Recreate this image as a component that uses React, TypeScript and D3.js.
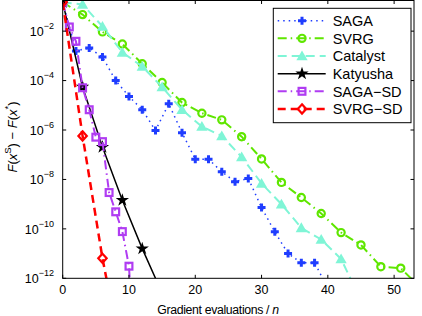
import React from 'react';
import * as d3 from 'd3';

document.body.style.margin = '0';

// values are log10 of F(x^s) - F(x^*)
const sagaX = [0, 2, 4, 6, 8, 10, 12, 14, 16, 18, 20, 22, 24, 26, 28, 30, 32, 34, 36, 38, 40];
const sagaY = [-0.83, -2.8, -2.68, -3.05, -4.0, -4.64, -5.18, -6.02, -4.94, -6.11, -7.18, -7.18, -7.69, -8.09, -7.96, -9.14, -10.12, -11.0, -11.37, -11.37, -12.4];

const svrgX = [0, 3, 6, 9, 12, 15, 18, 21, 24, 27, 30, 33, 36, 39, 42, 45, 48, 51, 54];
const svrgY = [-0.83, -1.33, -2.03, -2.52, -3.32, -4.08, -4.89, -5.32, -5.59, -6.27, -7.17, -8.12, -8.73, -9.38, -10.15, -10.65, -11.53, -11.59, -12.4];

const catalystX = [0, 3, 6, 9, 12, 15, 18, 21, 24, 27, 30, 33, 36, 39, 42, 45];
const catalystY = [-0.83, -0.92, -1.81, -2.86, -3.43, -4.26, -5.18, -5.86, -6.24, -7.09, -8.16, -9.0, -9.96, -10.43, -11.22, -12.9];

const katyushaX = [0, 3, 6, 9, 12, 15];
const katyushaY = [-0.83, -4.26, -6.69, -8.84, -10.8, -12.6];

const sagaSdX = [0, 1, 2, 3, 4, 5, 6, 7, 8, 9, 10, 11];
const sagaSdY = [-0.83, -1.83, -2.41, -4.29, -5.18, -6.29, -6.47, -8.53, -9.31, -10.11, -11.51, -16.5];

const svrgSdX = [0, 3, 6, 9];
const svrgSdY = [-0.83, -6.24, -11.19, -15.3];

const xTicks = [0, 10, 20, 30, 40, 50];
const yTickExp = [-12, -10, -8, -6, -4, -2];

type Marker = 'plus' | 'circle' | 'triangle' | 'star' | 'square' | 'diamond';

const series: { name: string; xs: number[]; ys: number[]; color: string; dash: string; width: number; marker: Marker }[] = [
  { name: 'SAGA', xs: sagaX, ys: sagaY, color: '#1f3dff', dash: '1.5 4', width: 1.5, marker: 'plus' },
  { name: 'SVRG', xs: svrgX, ys: svrgY, color: '#5fe600', dash: '9 4 1.5 4', width: 2, marker: 'circle' },
  { name: 'Catalyst', xs: catalystX, ys: catalystY, color: '#7ff5d6', dash: '9 5', width: 2, marker: 'triangle' },
  { name: 'Katyusha', xs: katyushaX, ys: katyushaY, color: '#000000', dash: '', width: 1.5, marker: 'star' },
  { name: 'SAGA\u2212SD', xs: sagaSdX, ys: sagaSdY, color: '#b03cf2', dash: '9 4 1.5 4', width: 2, marker: 'square' },
  { name: 'SVRG\u2212SD', xs: svrgSdX, ys: svrgSdY, color: '#ff0000', dash: '8 5', width: 2.5, marker: 'diamond' },
];

const W = 422;
const H = 316;
const left = 62.7;
const right = 414;
const top = 0.5;
const bottom = 278.3;
const font = "'Liberation Sans', Arial, sans-serif";

function MarkerShape({ type, x, y, color }: { type: Marker; x: number; y: number; color: string }) {
  const t = `translate(${x},${y})`;
  switch (type) {
    case 'plus':
      return <path transform={t} d="M-4,0H4M0,-4V4" stroke={color} strokeWidth={3} fill="none" />;
    case 'circle':
      return <circle cx={x} cy={y} r={3.6} stroke={color} strokeWidth={2.2} fill="none" />;
    case 'triangle':
      return <path transform={`translate(${x},${y + 1})`} d={d3.symbol(d3.symbolTriangle, 55)()!} fill={color} />;
    case 'star':
      return <path transform={t} d={d3.symbol(d3.symbolStar, 55)()!} fill={color} />;
    case 'square':
      return <rect x={x - 3.4} y={y - 3.4} width={6.8} height={6.8} stroke={color} strokeWidth={2.2} fill="none" />;
    case 'diamond':
      return <path transform={t} d="M0,-4.6L4.2,0L0,4.6L-4.2,0Z" stroke={color} strokeWidth={2.2} fill="none" />;
  }
}

export default function App() {
  const x = d3.scaleLinear().domain([0, 53]).range([left, right]);
  const y = d3.scaleLog().domain([1e-12, Math.pow(10, -0.76)]).range([bottom, top]);

  const line = d3
    .line<[number, number]>()
    .x((d) => x(d[0]))
    .y((d) => y(Math.pow(10, d[1])));

  const legendX = 273.3;
  const legendY = 8.3;
  const rowH = 17.65;

  return (
    <svg width={W} height={H} style={{ display: 'block', fontFamily: font }}>
      <defs>
        <clipPath id="plot">
          <rect x={left} y={top} width={right - left} height={bottom - top} />
        </clipPath>
      </defs>
      <rect x={left} y={top} width={right - left} height={bottom - top} fill="#fff" />

      <g clipPath="url(#plot)">
        {series.map((s) => {
          const pts: [number, number][] = s.xs.map((v, i) => [v, s.ys[i]]);
          return (
            <g key={s.name}>
              <path d={line(pts)!} fill="none" stroke={s.color} strokeWidth={s.width} strokeDasharray={s.dash || undefined} />
              {pts.map((p, i) => (
                <MarkerShape key={i} type={s.marker} x={x(p[0])} y={y(Math.pow(10, p[1]))} color={s.color} />
              ))}
            </g>
          );
        })}
      </g>

      {/* axes box */}
      <rect x={left} y={top} width={right - left} height={bottom - top} fill="none" stroke="#000" strokeWidth={1} />
      {xTicks.map((t) => (
        <g key={t}>
          <line x1={x(t)} x2={x(t)} y1={bottom} y2={bottom - 3.5} stroke="#000" />
          <line x1={x(t)} x2={x(t)} y1={top} y2={top + 3.5} stroke="#000" />
          <text x={x(t)} y={294.3} textAnchor="middle" fontSize={12.5}>
            {t}
          </text>
        </g>
      ))}
      {yTickExp.map((e) => {
        const yy = y(Math.pow(10, e));
        return (
          <g key={e}>
            <line x1={left} x2={left + 3.5} y1={yy} y2={yy} stroke="#000" />
            <line x1={right} x2={right - 3.5} y1={yy} y2={yy} stroke="#000" />
            <text x={54} y={yy + 4.8} textAnchor="end" fontSize={12.5}>
              10
              <tspan fontSize={9} dy={-7}>
                {'\u2212' + Math.abs(e)}
              </tspan>
            </text>
          </g>
        );
      })}

      <text x={218} y={313.5} textAnchor="middle" fontSize={12.3} letterSpacing={-0.35}>
        Gradient evaluations / <tspan fontStyle="italic">n</tspan>
      </text>
      <text transform="translate(16.5,137) rotate(-90)" textAnchor="middle" fontSize={13}>
        <tspan fontStyle="italic">F</tspan>(<tspan fontStyle="italic">x</tspan>
        <tspan fontSize={9.5} dy={-6}>S</tspan>
        <tspan dy={6}>) − </tspan>
        <tspan fontStyle="italic">F</tspan>(<tspan fontStyle="italic">x</tspan>
        <tspan fontSize={9.5} dy={-6}>*</tspan>
        <tspan dy={6}>)</tspan>
      </text>

      {/* legend */}
      <rect x={legendX} y={legendY} width={411 - legendX} height={122.7 - legendY} fill="#fff" stroke="#000" strokeWidth={1} />
      {series.map((s, i) => {
        const ry = legendY + 12.4 + i * rowH;
        return (
          <g key={s.name}>
            <line x1={277.7} x2={325.7} y1={ry} y2={ry} stroke={s.color} strokeWidth={s.width} strokeDasharray={s.dash || undefined} />
            <MarkerShape type={s.marker} x={302} y={ry} color={s.color} />
            <text x={332.7} y={ry + 5.2} fontSize={14.5}>
              {s.name}
            </text>
          </g>
        );
      })}
    </svg>
  );
}
